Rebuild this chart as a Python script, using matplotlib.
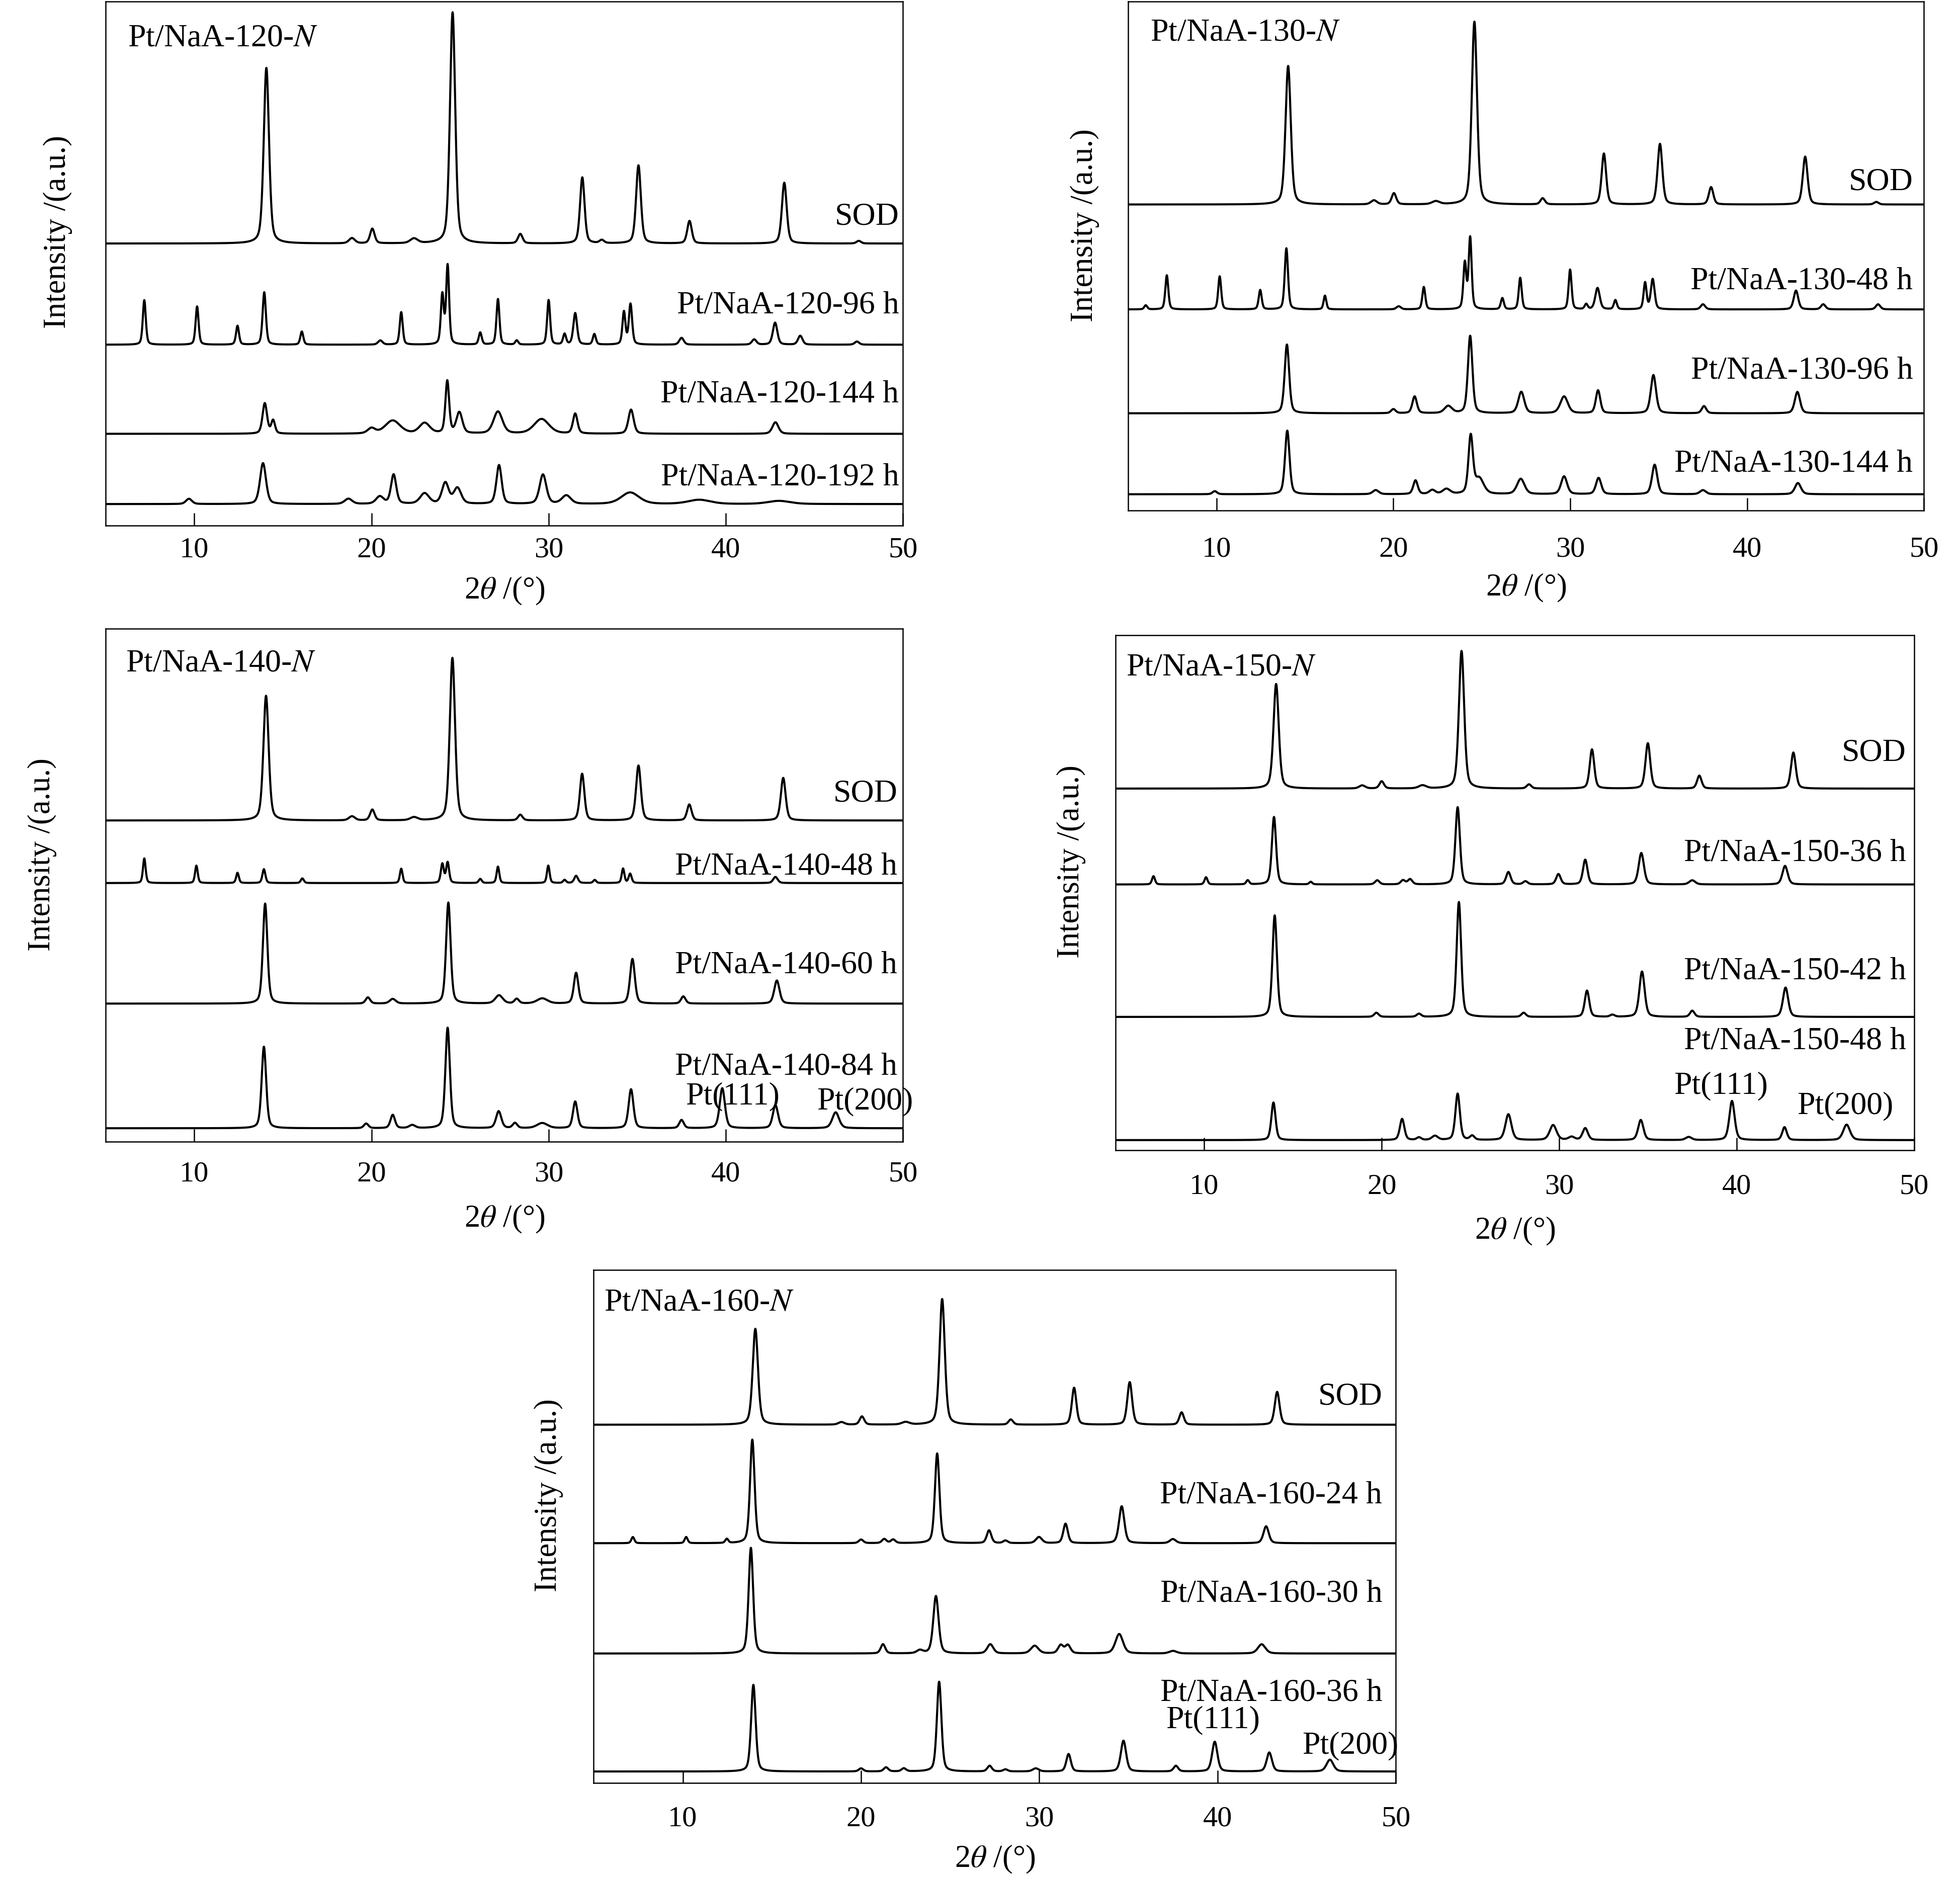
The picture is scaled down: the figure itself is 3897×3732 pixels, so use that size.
import numpy as np
import matplotlib.pyplot as plt

plt.rcParams['font.family'] = 'Liberation Serif'
plt.rcParams['mathtext.fontset'] = 'stix'

# peaks: (2theta, height, fwhm), heights in axes fraction
# ---- Pt/NaA-120-N ----
labels_120 = ['SOD', 'Pt/NaA-120-96 h', 'Pt/NaA-120-144 h', 'Pt/NaA-120-192 h']
offsets_120 = [0.538, 0.345, 0.175, 0.041]
peaks_120 = [
    [(14.07, 0.335, 0.35), (18.9, 0.010, 0.4), (20.05, 0.028, 0.3), (22.4, 0.009, 0.5),
     (24.58, 0.441, 0.35), (28.4, 0.018, 0.3), (31.9, 0.126, 0.3), (33.0, 0.006, 0.3),
     (35.07, 0.149, 0.32), (37.95, 0.043, 0.3), (43.3, 0.116, 0.32), (47.5, 0.005, 0.3)],
    [(7.18, 0.085, 0.2), (10.16, 0.073, 0.2), (12.44, 0.036, 0.2), (13.95, 0.100, 0.22),
     (16.07, 0.025, 0.2), (20.5, 0.008, 0.3), (21.68, 0.062, 0.2), (24.0, 0.094, 0.2),
     (24.3, 0.150, 0.2), (26.14, 0.023, 0.2), (27.14, 0.087, 0.2), (28.2, 0.008, 0.2),
     (30.0, 0.085, 0.2), (30.9, 0.020, 0.2), (31.5, 0.060, 0.25), (32.58, 0.020, 0.2),
     (34.25, 0.062, 0.2), (34.62, 0.077, 0.22), (37.5, 0.013, 0.3), (41.6, 0.010, 0.3),
     (42.78, 0.042, 0.3), (44.2, 0.017, 0.3), (47.4, 0.006, 0.3)],
    [(13.98, 0.058, 0.3), (14.45, 0.025, 0.25), (20.0, 0.010, 0.5), (21.2, 0.025, 1.0),
     (23.0, 0.020, 0.7), (24.28, 0.100, 0.25), (24.96, 0.040, 0.4), (27.14, 0.042, 0.6),
     (29.6, 0.028, 1.0), (31.5, 0.038, 0.3), (34.65, 0.046, 0.35), (42.8, 0.022, 0.4)],
    [(9.7, 0.010, 0.4), (13.88, 0.078, 0.4), (18.7, 0.010, 0.5), (20.47, 0.014, 0.5),
     (21.25, 0.056, 0.35), (23.0, 0.020, 0.6), (24.17, 0.040, 0.45), (24.85, 0.030, 0.5),
     (27.2, 0.074, 0.35), (29.68, 0.056, 0.45), (31.0, 0.016, 0.6), (34.6, 0.022, 1.2),
     (38.5, 0.008, 1.5), (43.0, 0.006, 1.5)],
]

# ---- Pt/NaA-130-N ----
labels_130 = ['SOD', 'Pt/NaA-130-48 h', 'Pt/NaA-130-96 h', 'Pt/NaA-130-144 h']
offsets_130 = [0.601, 0.395, 0.191, 0.032]
peaks_130 = [
    [(14.05, 0.272, 0.35), (18.9, 0.008, 0.4), (20.03, 0.022, 0.3), (22.4, 0.006, 0.5),
     (24.58, 0.359, 0.35), (28.44, 0.012, 0.3), (31.9, 0.100, 0.3), (35.07, 0.119, 0.32),
     (37.96, 0.034, 0.3), (43.28, 0.094, 0.32), (47.3, 0.005, 0.3)],
    [(6.0, 0.008, 0.2), (7.19, 0.067, 0.2), (10.18, 0.065, 0.2), (12.47, 0.038, 0.2),
     (13.95, 0.120, 0.22), (16.13, 0.027, 0.18), (20.3, 0.006, 0.3), (21.72, 0.044, 0.2),
     (24.04, 0.090, 0.2), (24.34, 0.140, 0.2), (26.16, 0.022, 0.2), (27.17, 0.062, 0.2),
     (29.99, 0.078, 0.2), (30.9, 0.010, 0.2), (31.54, 0.042, 0.3), (32.55, 0.018, 0.2),
     (34.23, 0.052, 0.2), (34.66, 0.059, 0.25), (37.5, 0.010, 0.3), (42.76, 0.037, 0.3),
     (44.3, 0.010, 0.3), (47.4, 0.010, 0.3)],
    [(13.98, 0.135, 0.3), (20.0, 0.008, 0.3), (21.2, 0.033, 0.3), (23.1, 0.014, 0.5),
     (24.34, 0.152, 0.3), (27.23, 0.042, 0.4), (29.65, 0.033, 0.5), (31.57, 0.045, 0.3),
     (34.7, 0.075, 0.35), (37.56, 0.014, 0.3), (42.84, 0.042, 0.35)],
    [(9.9, 0.006, 0.3), (14.0, 0.125, 0.3), (19.0, 0.008, 0.4), (21.25, 0.027, 0.3),
     (22.2, 0.008, 0.4), (23.0, 0.010, 0.5), (24.37, 0.112, 0.3), (24.85, 0.030, 0.6),
     (27.2, 0.030, 0.5), (29.65, 0.035, 0.4), (31.6, 0.032, 0.35), (34.77, 0.058, 0.35),
     (37.5, 0.008, 0.4), (42.87, 0.022, 0.4)],
]

# ---- Pt/NaA-140-N ----
labels_140 = ['SOD', 'Pt/NaA-140-48 h', 'Pt/NaA-140-60 h', 'Pt/NaA-140-84 h']
offsets_140 = [0.626, 0.504, 0.269, 0.026]
peaks_140 = [
    [(14.05, 0.243, 0.35), (18.9, 0.008, 0.4), (20.05, 0.021, 0.3), (22.4, 0.006, 0.5),
     (24.57, 0.317, 0.35), (28.4, 0.011, 0.3), (31.89, 0.091, 0.3), (35.07, 0.107, 0.32),
     (37.94, 0.031, 0.3), (43.24, 0.083, 0.32)],
    [(7.18, 0.048, 0.18), (10.12, 0.034, 0.18), (12.44, 0.020, 0.18), (13.93, 0.027, 0.2),
     (16.1, 0.009, 0.2), (21.68, 0.028, 0.18), (24.0, 0.037, 0.2), (24.3, 0.040, 0.2),
     (26.14, 0.008, 0.2), (27.14, 0.032, 0.18), (29.98, 0.034, 0.18), (30.9, 0.006, 0.2),
     (31.55, 0.014, 0.25), (32.6, 0.006, 0.2), (34.2, 0.028, 0.18), (34.6, 0.018, 0.2),
     (42.8, 0.012, 0.3)],
    [(14.0, 0.195, 0.3), (19.8, 0.012, 0.3), (21.2, 0.009, 0.4), (24.34, 0.197, 0.3),
     (27.2, 0.016, 0.5), (28.2, 0.009, 0.3), (29.64, 0.010, 0.7), (31.55, 0.060, 0.3),
     (34.73, 0.087, 0.32), (37.6, 0.014, 0.3), (42.88, 0.045, 0.35)],
    [(13.93, 0.159, 0.3), (19.7, 0.009, 0.3), (21.2, 0.026, 0.3), (22.3, 0.006, 0.4),
     (24.3, 0.196, 0.3), (27.18, 0.033, 0.35), (28.1, 0.010, 0.3), (29.64, 0.010, 0.7),
     (31.5, 0.052, 0.3), (34.65, 0.076, 0.32), (37.5, 0.016, 0.3), (39.8, 0.078, 0.35),
     (42.8, 0.045, 0.35), (46.2, 0.031, 0.45)],
]

# ---- Pt/NaA-150-N ----
labels_150 = ['SOD', 'Pt/NaA-150-36 h', 'Pt/NaA-150-42 h', 'Pt/NaA-150-48 h']
offsets_150 = [0.702, 0.516, 0.259, 0.020]
peaks_150 = [
    [(14.05, 0.203, 0.35), (18.9, 0.006, 0.4), (20.0, 0.014, 0.3), (22.3, 0.006, 0.5),
     (24.5, 0.267, 0.35), (28.3, 0.008, 0.3), (31.85, 0.076, 0.3), (35.0, 0.088, 0.32),
     (37.9, 0.025, 0.3), (43.2, 0.070, 0.32)],
    [(7.14, 0.016, 0.2), (10.1, 0.014, 0.2), (12.45, 0.008, 0.2), (13.93, 0.131, 0.28),
     (16.0, 0.005, 0.2), (19.75, 0.008, 0.3), (21.2, 0.008, 0.3), (21.6, 0.010, 0.3),
     (24.28, 0.150, 0.3), (27.14, 0.024, 0.3), (28.1, 0.006, 0.3), (29.96, 0.020, 0.3),
     (31.47, 0.048, 0.3), (34.63, 0.061, 0.35), (37.5, 0.008, 0.4), (42.73, 0.036, 0.35)],
    [(13.97, 0.197, 0.3), (19.7, 0.008, 0.3), (22.1, 0.006, 0.3), (24.35, 0.223, 0.3),
     (28.0, 0.008, 0.3), (31.57, 0.051, 0.3), (33.0, 0.004, 0.3), (34.67, 0.088, 0.35),
     (37.5, 0.012, 0.3), (42.76, 0.057, 0.35)],
    [(13.9, 0.073, 0.28), (21.15, 0.041, 0.3), (22.1, 0.005, 0.3), (23.0, 0.008, 0.4),
     (24.28, 0.090, 0.3), (25.1, 0.008, 0.3), (27.14, 0.050, 0.4), (29.66, 0.029, 0.45),
     (30.7, 0.006, 0.4), (31.47, 0.023, 0.35), (34.6, 0.039, 0.35), (37.3, 0.006, 0.4),
     (39.74, 0.076, 0.35), (42.7, 0.025, 0.3), (46.2, 0.030, 0.45)],
]

# ---- Pt/NaA-160-N ----
labels_160 = ['SOD', 'Pt/NaA-160-24 h', 'Pt/NaA-160-30 h', 'Pt/NaA-160-36 h']
offsets_160 = [0.698, 0.467, 0.252, 0.022]
peaks_160 = [
    [(14.07, 0.187, 0.35), (18.9, 0.005, 0.4), (20.05, 0.016, 0.3), (22.5, 0.005, 0.5),
     (24.55, 0.245, 0.35), (28.4, 0.010, 0.3), (31.95, 0.072, 0.3), (35.07, 0.083, 0.32),
     (37.98, 0.024, 0.3), (43.34, 0.064, 0.32)],
    [(7.2, 0.012, 0.2), (10.19, 0.012, 0.2), (12.47, 0.008, 0.2), (13.9, 0.202, 0.3),
     (20.0, 0.007, 0.3), (21.3, 0.008, 0.3), (21.8, 0.007, 0.3), (24.27, 0.175, 0.3),
     (27.18, 0.025, 0.3), (28.1, 0.005, 0.3), (29.98, 0.012, 0.4), (31.47, 0.038, 0.3),
     (34.62, 0.072, 0.35), (37.49, 0.008, 0.4), (42.72, 0.033, 0.35)],
    [(13.82, 0.206, 0.3), (21.23, 0.018, 0.3), (23.3, 0.006, 0.4), (24.2, 0.112, 0.35),
     (27.25, 0.018, 0.4), (29.74, 0.015, 0.5), (31.2, 0.016, 0.35), (31.6, 0.016, 0.35),
     (34.48, 0.038, 0.5), (37.5, 0.005, 0.5), (42.47, 0.018, 0.5)],
    [(13.96, 0.169, 0.3), (20.0, 0.006, 0.3), (21.4, 0.008, 0.3), (22.4, 0.006, 0.3),
     (24.38, 0.175, 0.3), (27.21, 0.011, 0.3), (28.1, 0.004, 0.3), (29.8, 0.006, 0.4),
     (31.64, 0.034, 0.3), (34.72, 0.060, 0.35), (37.66, 0.011, 0.3), (39.84, 0.058, 0.35),
     (42.9, 0.037, 0.35), (46.3, 0.023, 0.45)],
]

titles = ['120', '130', '140', '150', '160']
pt_panels = [False, False, True, True, True]

# layout: [left, bottom, width, height] in figure fraction
rects = [
    [0.0539, 0.7200, 0.4067, 0.2793],
    [0.5754, 0.7280, 0.4060, 0.2713],
    [0.0539, 0.3918, 0.4067, 0.2733],
    [0.5690, 0.3871, 0.4073, 0.2746],
    [0.3028, 0.0502, 0.4092, 0.2733],
]
label_y = [
    [0.589, 0.420, 0.250, 0.092],
    [0.645, 0.450, 0.274, 0.091],
    [0.678, 0.536, 0.343, 0.145],
    [0.771, 0.577, 0.347, 0.212],
    [0.752, 0.560, 0.368, 0.175],
]
label_x = [0.995, 0.986, 0.993, 0.990, 0.983]
title_pos = [(0.028, 0.929), (0.028, 0.937), (0.025, 0.931), (0.013, 0.936), (0.013, 0.935)]
pt111_pos = [None, None, (0.786, 0.088), (0.758, 0.125), (0.772, 0.122)]
pt200_pos = [None, None, (0.952, 0.078), (0.914, 0.086), (0.943, 0.072)]
ylabel_x = [-0.042, -0.036, -0.061, -0.037, -0.038]
tick_pad = [16, 37, 28, 33, 33]
xlabel_pad = [18, 14, 23, 23, 17]

all_labels = [labels_120, labels_130, labels_140, labels_150, labels_160]
all_offsets = [offsets_120, offsets_130, offsets_140, offsets_150, offsets_160]
all_peaks = [peaks_120, peaks_130, peaks_140, peaks_150, peaks_160]

x = np.linspace(5, 50, 4501)


def pattern(peaks, base, eta=0.4):
    y = np.full_like(x, base)
    for pos, h, w in peaks:
        d = (x - pos) / (w / 2)
        y += h * (eta / (1 + d ** 2) + (1 - eta) * np.exp(-np.log(2) * d ** 2))
    return y


fig = plt.figure(figsize=(38.98, 37.32), dpi=100)

for i in range(5):
    ax = fig.add_axes(rects[i])
    for peaks, base in zip(all_peaks[i], all_offsets[i]):
        ax.plot(x, pattern(peaks, base), color='black', lw=3.0)
    for lab, ly in zip(all_labels[i], label_y[i]):
        ax.text(label_x[i], ly, lab, transform=ax.transAxes, ha='right', va='center', fontsize=46)
    tx, ty = title_pos[i]
    ax.text(tx, ty, 'Pt/NaA-' + titles[i] + '-$N$', transform=ax.transAxes,
            ha='left', va='center', fontsize=46)
    if pt_panels[i]:
        ax.text(*pt111_pos[i], 'Pt(111)', transform=ax.transAxes, ha='center', va='center', fontsize=46)
        ax.text(*pt200_pos[i], 'Pt(200)', transform=ax.transAxes, ha='center', va='center', fontsize=46)
    ax.set_xlim(5, 50)
    ax.set_ylim(0, 1)
    ax.set_xticks([10, 20, 30, 40, 50])
    ax.set_yticks([])
    ax.tick_params(axis='x', direction='in', length=18, width=1.8, labelsize=42, pad=tick_pad[i])
    for s in ax.spines.values():
        s.set_linewidth(1.8)
    ax.set_xlabel(r'2$\theta$ /(°)', fontsize=45, labelpad=xlabel_pad[i])
    ax.set_ylabel('Intensity /(a.u.)', fontsize=45)
    ax.yaxis.set_label_coords(ylabel_x[i], 0.56)

fig.savefig('out.png', dpi=100)
